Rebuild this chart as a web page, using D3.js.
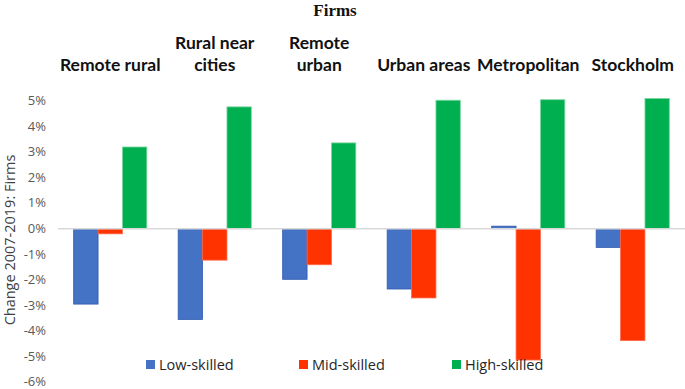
<!DOCTYPE html>
<html>
<head>
<meta charset="utf-8">
<script src="https://cdn.jsdelivr.net/npm/d3@7"></script>
<style>
  body { margin: 0; background: #fff; }
  svg { display: block; }
</style>
</head>
<body>
<div id="chart"></div>
<script>
// data (percent change 2007-2019)
var regions = ['Remote rural', 'Rural near cities', 'Remote urban', 'Urban areas', 'Metropolitan', 'Stockholm'];
var regionLines = [['Remote rural'], ['Rural near', 'cities'], ['Remote', 'urban'], ['Urban areas'], ['Metropolitan'], ['Stockholm']];
var skills = ['Low-skilled', 'Mid-skilled', 'High-skilled'];
var lowSkilled = [-2.95, -3.55, -1.98, -2.36, 0.1, -0.73];
var midSkilled = [-0.2, -1.23, -1.41, -2.71, -5.14, -4.38];
var highSkilled = [3.2, 4.77, 3.36, 5.03, 5.05, 5.1];
var yTicks = [5, 4, 3, 2, 1, 0, -1, -2, -3, -4, -5, -6];

var colors = ['#4472C4', '#FF3300', '#00B050'];
var strokes = ['#2F5AAE', '#FF6A4D', '#7FD6A0'];

var chartW = 685, chartH = 389;
var plotLeft = 58, plotRight = 685, plotTop = 101, plotBottom = 382;

var svg = d3.select('#chart')
    .append('svg')
    .attr('width', chartW)
    .attr('height', chartH);

var x0 = d3.scaleBand()
    .domain(regions)
    .range([plotLeft, plotRight])
    .padding(0);

var x1 = d3.scaleBand()
    .domain(skills)
    .range([0, x0.bandwidth() * 0.7]);

var y = d3.scaleLinear()
    .domain([-6, 5])
    .range([plotBottom, plotTop]);

var series = [lowSkilled, midSkilled, highSkilled];
var rows = [];
regions.forEach(function(r, i) {
	skills.forEach(function(s, j) {
		rows.push({region: r, skill: s, k: j, val: series[j][i]});
	});
});

// title
svg.append('text')
    .attr('x', 335)
    .attr('y', 16)
    .attr('text-anchor', 'middle')
    .style('font-family', '"Liberation Serif", "Times New Roman", serif')
    .style('font-weight', 'bold')
    .style('font-size', '17px')
    .attr('fill', '#111')
    .text('Firms');

// y tick labels
svg.append('g')
    .selectAll('text')
    .data(yTicks)
    .enter()
    .append('text')
    .attr('x', 46)
    .attr('y', d => y(d))
    .attr('dy', '0.33em')
    .attr('text-anchor', 'end')
    .style('font-family', '"Open Sans", sans-serif')
    .style('font-size', '13px')
    .attr('fill', '#595959')
    .text(d => d + '%');

// y axis title
svg.append('text')
    .attr('transform', 'translate(15,' + 240 + ') rotate(-90)')
    .attr('text-anchor', 'middle')
    .style('font-family', '"Open Sans", sans-serif')
    .style('font-size', '14.5px')
    .attr('fill', '#404040')
    .text('Change 2007-2019: Firms');

// category labels
var cats = svg.append('g')
    .selectAll('text')
    .data(regions)
    .enter()
    .append('text')
    .attr('text-anchor', 'middle')
    .style('font-family', 'Lato, sans-serif')
    .style('font-weight', 'bold')
    .style('font-size', '17.5px')
    .attr('fill', '#111');

cats.each(function(d, i) {
	var lines = regionLines[i];
	var t = d3.select(this);
	lines.forEach(function(l, k) {
		t.append('tspan')
		    .attr('x', x0(d) + x0.bandwidth() / 2)
		    .attr('y', 71 - (lines.length - 1 - k) * 22)
		    .text(l);
	});
});

// bars
var off = x0.bandwidth() * 0.15;
svg.append('g')
    .selectAll('rect')
    .data(rows)
    .enter()
    .append('rect')
    .attr('x', d => x0(d.region) + off + x1(d.skill))
    .attr('width', x1.bandwidth())
    .attr('y', d => y(Math.max(0, d.val)))
    .attr('height', d => Math.abs(y(d.val) - y(0)))
    .attr('fill', d => colors[d.k])
    .attr('stroke', d => strokes[d.k])
    .attr('stroke-width', 0.8);

// zero line
svg.append('line')
    .attr('x1', plotLeft)
    .attr('x2', plotRight)
    .attr('y1', y(0))
    .attr('y2', y(0))
    .attr('stroke', '#D9D9D9')
    .attr('stroke-width', 1.5);

// legend
var legX = [146, 299, 452];
var leg = svg.append('g')
    .selectAll('g')
    .data(skills)
    .enter()
    .append('g')
    .attr('transform', (d, i) => 'translate(' + legX[i] + ',360)');

leg.append('rect')
    .attr('width', 9)
    .attr('height', 9)
    .attr('fill', (d, i) => colors[i]);

leg.append('text')
    .attr('x', 13)
    .attr('y', 4.5)
    .attr('dy', '0.35em')
    .style('font-family', '"Open Sans", sans-serif')
    .style('font-size', '14.5px')
    .attr('fill', '#262626')
    .text(d => d);
</script>
</body>
</html>
